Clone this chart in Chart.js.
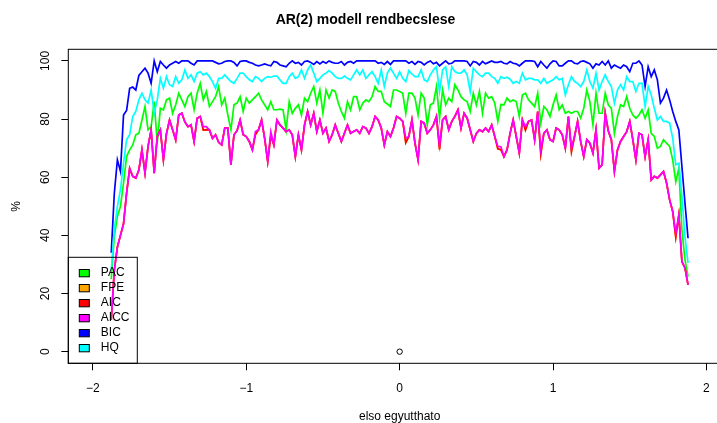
<!DOCTYPE html>
<html>
<head>
<meta charset="utf-8">
<script src="https://cdn.jsdelivr.net/npm/chart.js@4.4.0/dist/chart.umd.min.js"></script>
<style>
  html, body { margin: 0; padding: 0; background: #fff; overflow: hidden; }
</style>
</head>
<body>
<canvas id="chart" width="800" height="423"></canvas>
<script>
// x grid: first coefficient from -1.88 to 1.88, step 0.02 (like seq() in R)
const xFrom = -1.88;
const xStep = 0.02;
const xCount = 189;

const xTicks = [-2, -1, 0, 1, 2];
const yTicks = [0, 20, 40, 60, 80, 100];

const seriesNames = ["PAC", "FPE", "AIC", "AICC", "BIC", "HQ"];
const seriesColors = ["#00ff00", "#ffa500", "#ff0000", "#ff00ff", "#0000ff", "#00ffff"];

const pacValues = [
  25, 39.6, 46.5, 50, 58, 67.1, 69.4, 71.1, 74.6, 75.1, 79.7, 84.3, 76.3, 77.4, 86, 71.7, 83.7, 83.2, 86.6, 87.2,
  82, 84.9, 88.9, 86.6, 84.3, 87.7, 88.9, 83.2, 88.9,
  92.3, 86.6, 89.5, 84.3, 86, 87.7, 91.2, 84.9, 87.2, 81.4, 76.3, 84.9, 85.5, 87.7, 82.6, 87.2, 85.5, 86.6, 87.7, 88.9,
  86.6, 84.9, 83.2, 86, 83.2, 83.2, 83.4, 83.2, 76.3, 86, 82, 83.7, 84.9,
  81.4, 87.2, 86, 88.9, 91.2, 85.5, 90, 82, 90, 87.2, 90, 89.5, 85.5, 82.6, 80.3, 86, 83.2, 87.7, 87.7, 83.2,
  85.5, 86.6, 86, 87.7, 91.2, 89.5, 89.5, 86, 85.2, 84.3, 90, 90,
  89.5, 88.9, 82, 88.9, 88.9, 87.2, 81.4, 88.9, 87.2, 78, 84.9, 85.5, 91.2, 80.3, 90, 84.9, 87.2, 86, 91.8, 90,
  87.7, 86.6, 86, 82.6, 88.9, 84.9, 89.5, 82, 88.9, 87.2, 87.7, 85.5, 79.2,
  85, 84.9, 87.2, 86, 86.6, 86, 80.9, 88.3, 88.9, 86.6, 85.5, 84.3, 88.9, 78.6, 84.3, 83.2, 80.9, 84.9, 88.3, 83.2,
  84.9, 82, 82.6, 82, 82.6, 82.6, 80.3, 83.7, 90, 86, 78, 88.9, 82,
  82, 88.9, 84.9, 83.7, 75.1, 80.9, 84.9, 84.3, 87.7, 83.7, 81.4, 80.3, 81.4, 83.2, 80.3, 83.2, 75.1, 74, 70, 70.6,
  72.9, 71.7, 70.6, 66, 58.5, 63.1, 41.9, 31.6, 25.8
];

const aiccValues = [
  11, 28, 36, 40, 44, 54.5, 63, 60.3, 59.7, 62.5, 69.4, 61.4, 70.6, 76.3, 61.4, 74, 76.3, 66, 75, 79.7,
  76.3, 72.8, 81.4, 82, 79, 77.4, 78, 72.3, 80.3,
  80.9, 77.4, 77.4, 76.3, 73.4, 74.6, 72, 71.1, 76.9, 76.9, 64.3, 74.6, 76, 79.7, 74.6, 74, 72.3, 69.4, 75.7, 76.3,
  79.7, 73.4, 65.4, 75.7, 71.1, 79.7, 78, 76.9, 75.7, 76.3, 74.6, 67.1, 74.6,
  69.4, 78, 82.6, 78, 82, 75.7, 79.7, 75.1, 76.9, 72.3, 74.6, 78, 75.1, 72.3, 75.1, 78, 75.1, 75.7, 76.3, 75.1,
  77.4, 76.9, 75.1, 77.4, 80.9, 79.7, 76.9, 71.1, 75.7, 74, 76.9, 80.9,
  80.3, 79.2, 73.4, 74, 79.7, 71.7, 66, 79.2, 78.6, 75.1, 76.3, 78, 80.9, 71.1, 79.7, 80.9, 76.3, 79.2, 80.9, 83.2,
  76.9, 82, 80.3, 76.3, 72.3, 75.1, 76.3, 75.7, 76.9, 75.7, 78, 74, 70.6,
  70.5, 67.1, 69.4, 75.1, 79.7, 74, 68.3, 79.7, 77.4, 79.2, 79.7, 72.9, 82.6, 69.4, 75.1, 76.3, 72.9, 72.3, 76.9, 76.3,
  74.6, 70, 80.9, 70, 74, 79.2, 72.3, 67.1, 72.9, 71.7, 68.3, 76.3, 63.1,
  64.3, 82, 76, 72.9, 62, 69.4, 72.3, 74, 75.7, 79.2, 72.9, 66, 75.1, 74.6, 67.1, 72.9, 59.1, 60.3, 59.7, 60.8,
  62, 58, 52.2, 48.2, 40.8, 47, 31, 28.8, 23
];

// AIC sits almost exactly under AICC, only a few points show red below it
const aicValues = [
  11, 28, 36, 40, 44, 54.5, 63, 60.3, 59.7, 62.5, 69.4, 61.4, 70.6, 76.3, 61.4, 74, 76.3, 66, 75, 79.7,
  76.3, 72.8, 81.4, 82, 79, 77.4, 78, 72.3, 80.3,
  80.9, 76.2, 76.4, 76.3, 73.4, 74.6, 72, 71.1, 76.9, 76.9, 64.3, 74.6, 76, 79.7, 74.6, 74, 72.3, 69.4, 74.7, 76.3,
  79.7, 73.4, 65.4, 74.2, 71.1, 79.7, 78, 76.9, 75.7, 76.3, 74.6, 67.1, 74.6,
  69.4, 78, 82.6, 78, 82, 75.7, 79.7, 75.1, 76.9, 72.3, 74.6, 78, 75.1, 72.3, 75.1, 78, 75.1, 75.7, 76.3, 75.1,
  77.4, 76.9, 75.1, 77.4, 80.9, 79.7, 76.9, 71.1, 75.7, 74, 76.9, 80.9,
  80.3, 79.2, 71.9, 74, 79.7, 71.7, 66, 79.2, 78.6, 75.1, 76.3, 78, 80.9, 69.6, 79.7, 80.9, 76.3, 79.2, 80.9, 83.2,
  76.9, 82, 80.3, 76.3, 72.3, 75.1, 76.3, 75.7, 76.9, 75.7, 78, 74, 69.8,
  69.5, 67.1, 69.4, 75.1, 79.7, 74, 68.3, 79.7, 76.2, 79.2, 79.7, 72.9, 82.6, 67.9, 75.1, 76.3, 72.9, 72.3, 76.9, 76.3,
  74.6, 70, 80.9, 68.8, 74, 79.2, 72.3, 67.1, 72.9, 71.7, 68.3, 76.3, 63.1,
  64.3, 82, 76, 72.9, 62, 69.4, 72.3, 74, 75.7, 79.2, 72.9, 66, 75.1, 74.6, 67.1, 72.9, 59.1, 60.3, 59.7, 60.8,
  62, 58, 52.2, 48.2, 39.3, 47, 31, 28.8, 23
];

// FPE is completely hidden under AIC in the picture
const fpeValues = aicValues;

const bicValues = [
  34, 54.5, 66, 62, 81.4, 83, 90.6, 91, 90, 95, 96.3, 97.5, 95.8, 92.3, 100, 96.3, 99.8, 98.6, 97.5, 98.6,
  99.2, 99.8, 99.2, 100, 100, 100, 99.2, 98.6, 100,
  100, 100, 100, 100, 100, 99.5, 99, 99.2, 99.8, 100, 100, 99.5, 98.3, 99.8, 100, 100, 99.5, 99.2, 98.6, 98.3,
  98.6, 99, 98.6, 98.3, 99.8, 99.5, 98.6, 98.3, 98, 99.2, 100, 99.2, 99.5,
  98.6, 99.8, 100, 99.5, 98.8, 99.8, 99, 99.8, 99.2, 100, 99.5, 99.2, 99.2, 99.8, 98.6, 99.5, 99.8, 99.2, 100, 100,
  100, 100, 100, 100, 100, 99.2, 99.5, 98.8, 99.8, 98.8, 100, 100,
  100, 100, 100, 99.2, 99.8, 98.8, 99.8, 99.5, 98.6, 99.5, 100, 99, 99.5, 98.3, 99.2, 100, 99, 99.2, 100, 100,
  100, 100, 99.8, 98.3, 99.8, 99.5, 98.6, 99.8, 99, 99.5, 100, 99.5, 99.5,
  99.8, 99.2, 99, 99.8, 99.2, 99, 98.3, 99.2, 100, 100, 100, 99.8, 98, 99.8, 98.6, 97.5, 99, 100, 99.8, 98.3,
  98.3, 99.2, 100, 100, 99.2, 99, 99.8, 100, 99.5, 99, 97.5, 99, 98.6,
  99.8, 98.6, 100, 97.5, 98.6, 98, 97.5, 98.6, 98, 96.3, 99.2, 99.2, 100, 98.6, 91.2, 98, 94.6, 96.9, 93.5, 85.5,
  87.2, 90, 86.6, 82.6, 79.2, 76.3, 63.7, 51.1, 39
];

const hqValues = [
  28, 42, 50, 55.7, 64.8, 72.9, 74.6, 80.9, 82.6, 86.6, 88.9, 86.6, 85.5, 90, 82, 86.6, 94, 90.6, 94.6, 91.8,
  91.2, 94.6, 92.3, 93.5, 96.9, 94, 95.2, 92.9, 95.8,
  96.3, 95.2, 95.8, 94.6, 92.9, 90.6, 94, 94, 95.2, 94, 92.9, 92.3, 94, 95.8, 95.8, 94.6, 93.5, 92.9, 94.6, 94,
  92.9, 94, 94.6, 94.4, 94.8, 94.8, 93.5, 92.3, 92.3, 94.6, 95.8, 94, 94.6,
  96.9, 94, 96.9, 98.6, 95.8, 92.9, 94, 95.2, 95.8, 96.7, 95.8, 94.6, 94, 94, 94.8, 94, 93.5, 95.2, 96.9, 95.2,
  96.9, 94, 95.2, 96.3, 94.6, 92.3, 96.9, 91.2, 95.8, 97.5, 95.8, 94,
  96.3, 94, 92.9, 96.7, 95.5, 94.6, 94.6, 96.9, 93.5, 92.9, 95.2, 96.9, 98, 89.5, 96.9, 98, 91.2, 98, 96.3, 95.8,
  95.8, 96.9, 95.2, 89.5, 97.5, 96.3, 95.2, 94.6, 95.8, 95.8, 94.6, 94, 92.3,
  94.6, 94, 94.4, 93.7, 92.3, 92.9, 92.3, 95.8, 93.5, 94, 94, 93.5, 93.5, 92.3, 94, 92.3, 92.9, 93.5, 94.6, 93.5,
  94, 88.3, 91.8, 94.6, 92.9, 92.3, 91.2, 92.9, 96.9, 92.9, 90.6, 95.8, 90,
  92.9, 95.2, 92.9, 91.2, 85.5, 90, 91.8, 90, 94.6, 92.9, 92.9, 89.5, 92.3, 92.3, 84.3, 91.2, 88.3, 83.7, 79.7, 80.9,
  79.2, 79.2, 78.6, 73.4, 64.3, 64.8, 53.4, 39.6, 30.5
];

const allValues = [pacValues, fpeValues, aicValues, aiccValues, bicValues, hqValues];

const xValues = [];
for (let i = 0; i < xCount; i++) {
  xValues.push(Math.round((xFrom + i * xStep) * 100) / 100);
}

function toPoints(vals) {
  return vals.map((v, i) => ({ x: xValues[i], y: v }));
}

Chart.defaults.font.family = '"Liberation Sans", Arial, Helvetica, sans-serif';
Chart.defaults.color = "#000";

const datasets = seriesNames.map((name, k) => ({
  label: name,
  data: toPoints(allValues[k]),
  borderColor: seriesColors[k],
  backgroundColor: seriesColors[k],
  borderWidth: 1.7,
  pointRadius: 0,
  tension: 0,
  fill: false,
  order: 10 - k, // later series on top, as in R
}));

// the single empty circle from plot(0, 0, ...)
datasets.push({
  type: "scatter",
  label: "origin",
  data: [{ x: 0, y: 0 }],
  pointRadius: 2.7,
  pointBorderWidth: 1,
  pointBorderColor: "#000",
  pointBackgroundColor: "rgba(0,0,0,0)",
  showLine: false,
  order: 0,
});

const frameAndLegend = {
  id: "frameAndLegend",
  afterDatasetsDraw(chart) {
    const ctx = chart.ctx;
    const ca = chart.chartArea;
    ctx.save();
    ctx.strokeStyle = "#000";
    ctx.lineWidth = 1;
    ctx.strokeRect(ca.left, ca.top, ca.right - ca.left, ca.bottom - ca.top);

    // legend box, bottom left
    const boxW = 69, boxH = 106;
    const bx = ca.left, by = ca.bottom - boxH;
    ctx.strokeRect(bx, by, boxW, boxH);
    ctx.font = '12px "Liberation Sans", Arial, sans-serif';
    ctx.textBaseline = "middle";
    ctx.textAlign = "left";
    seriesNames.forEach((name, k) => {
      const cy = by + 15.8 + k * 15;
      ctx.fillStyle = seriesColors[k];
      ctx.fillRect(bx + 11, cy - 3.6, 10, 7.3);
      ctx.strokeStyle = "#000";
      ctx.strokeRect(bx + 11, cy - 3.6, 10, 7.3);
      ctx.fillStyle = "#000";
      ctx.fillText(name, bx + 32.5, cy);
    });
    ctx.restore();
  }
};

new Chart(document.getElementById("chart"), {
  type: "line",
  data: { datasets: datasets },
  options: {
    responsive: false,
    animation: false,
    devicePixelRatio: 1,
    layout: { padding: { left: 0, right: 69, top: 0, bottom: 0 } },
    plugins: {
      legend: { display: false },
      tooltip: { enabled: false },
      title: {
        display: true,
        text: "AR(2) modell rendbecslese",
        color: "#000",
        font: { size: 14, weight: "bold" },
        padding: { top: 11.6, bottom: 20.9 },
      },
    },
    scales: {
      x: {
        type: "linear",
        min: -2.16,
        max: 2.16,
        afterBuildTicks: (s) => { s.ticks = xTicks.map((v) => ({ value: v })); },
        afterFit: (s) => { s.height = 59.7; },
        grid: { drawOnChartArea: false, drawTicks: true, tickLength: 7, color: "#000", lineWidth: 1 },
        border: { display: false },
        ticks: {
          color: "#000",
          font: { size: 12 },
          padding: 11,
          maxRotation: 0,
          callback: (v) => String(v).replace("-", "\u2212"),
        },
        title: {
          display: true,
          text: "elso egyutthato",
          color: "#000",
          font: { size: 12 },
          padding: { top: 0, bottom: -1 },
        },
      },
      y: {
        type: "linear",
        min: -4,
        max: 104,
        afterBuildTicks: (s) => { s.ticks = yTicks.map((v) => ({ value: v })); },
        afterFit: (s) => { s.width = 68.3; },
        grid: { drawOnChartArea: false, drawTicks: true, tickLength: 7, color: "#000", lineWidth: 1 },
        border: { display: false },
        ticks: {
          color: "#000",
          font: { size: 12 },
          padding: 6,
          minRotation: 90,
          maxRotation: 90,
          crossAlign: "center",
        },
        title: {
          display: true,
          text: "%",
          color: "#000",
          font: { size: 12 },
          padding: { top: 9, bottom: 0 },
        },
      },
    },
  },
  plugins: [frameAndLegend],
});
</script>
</body>
</html>
